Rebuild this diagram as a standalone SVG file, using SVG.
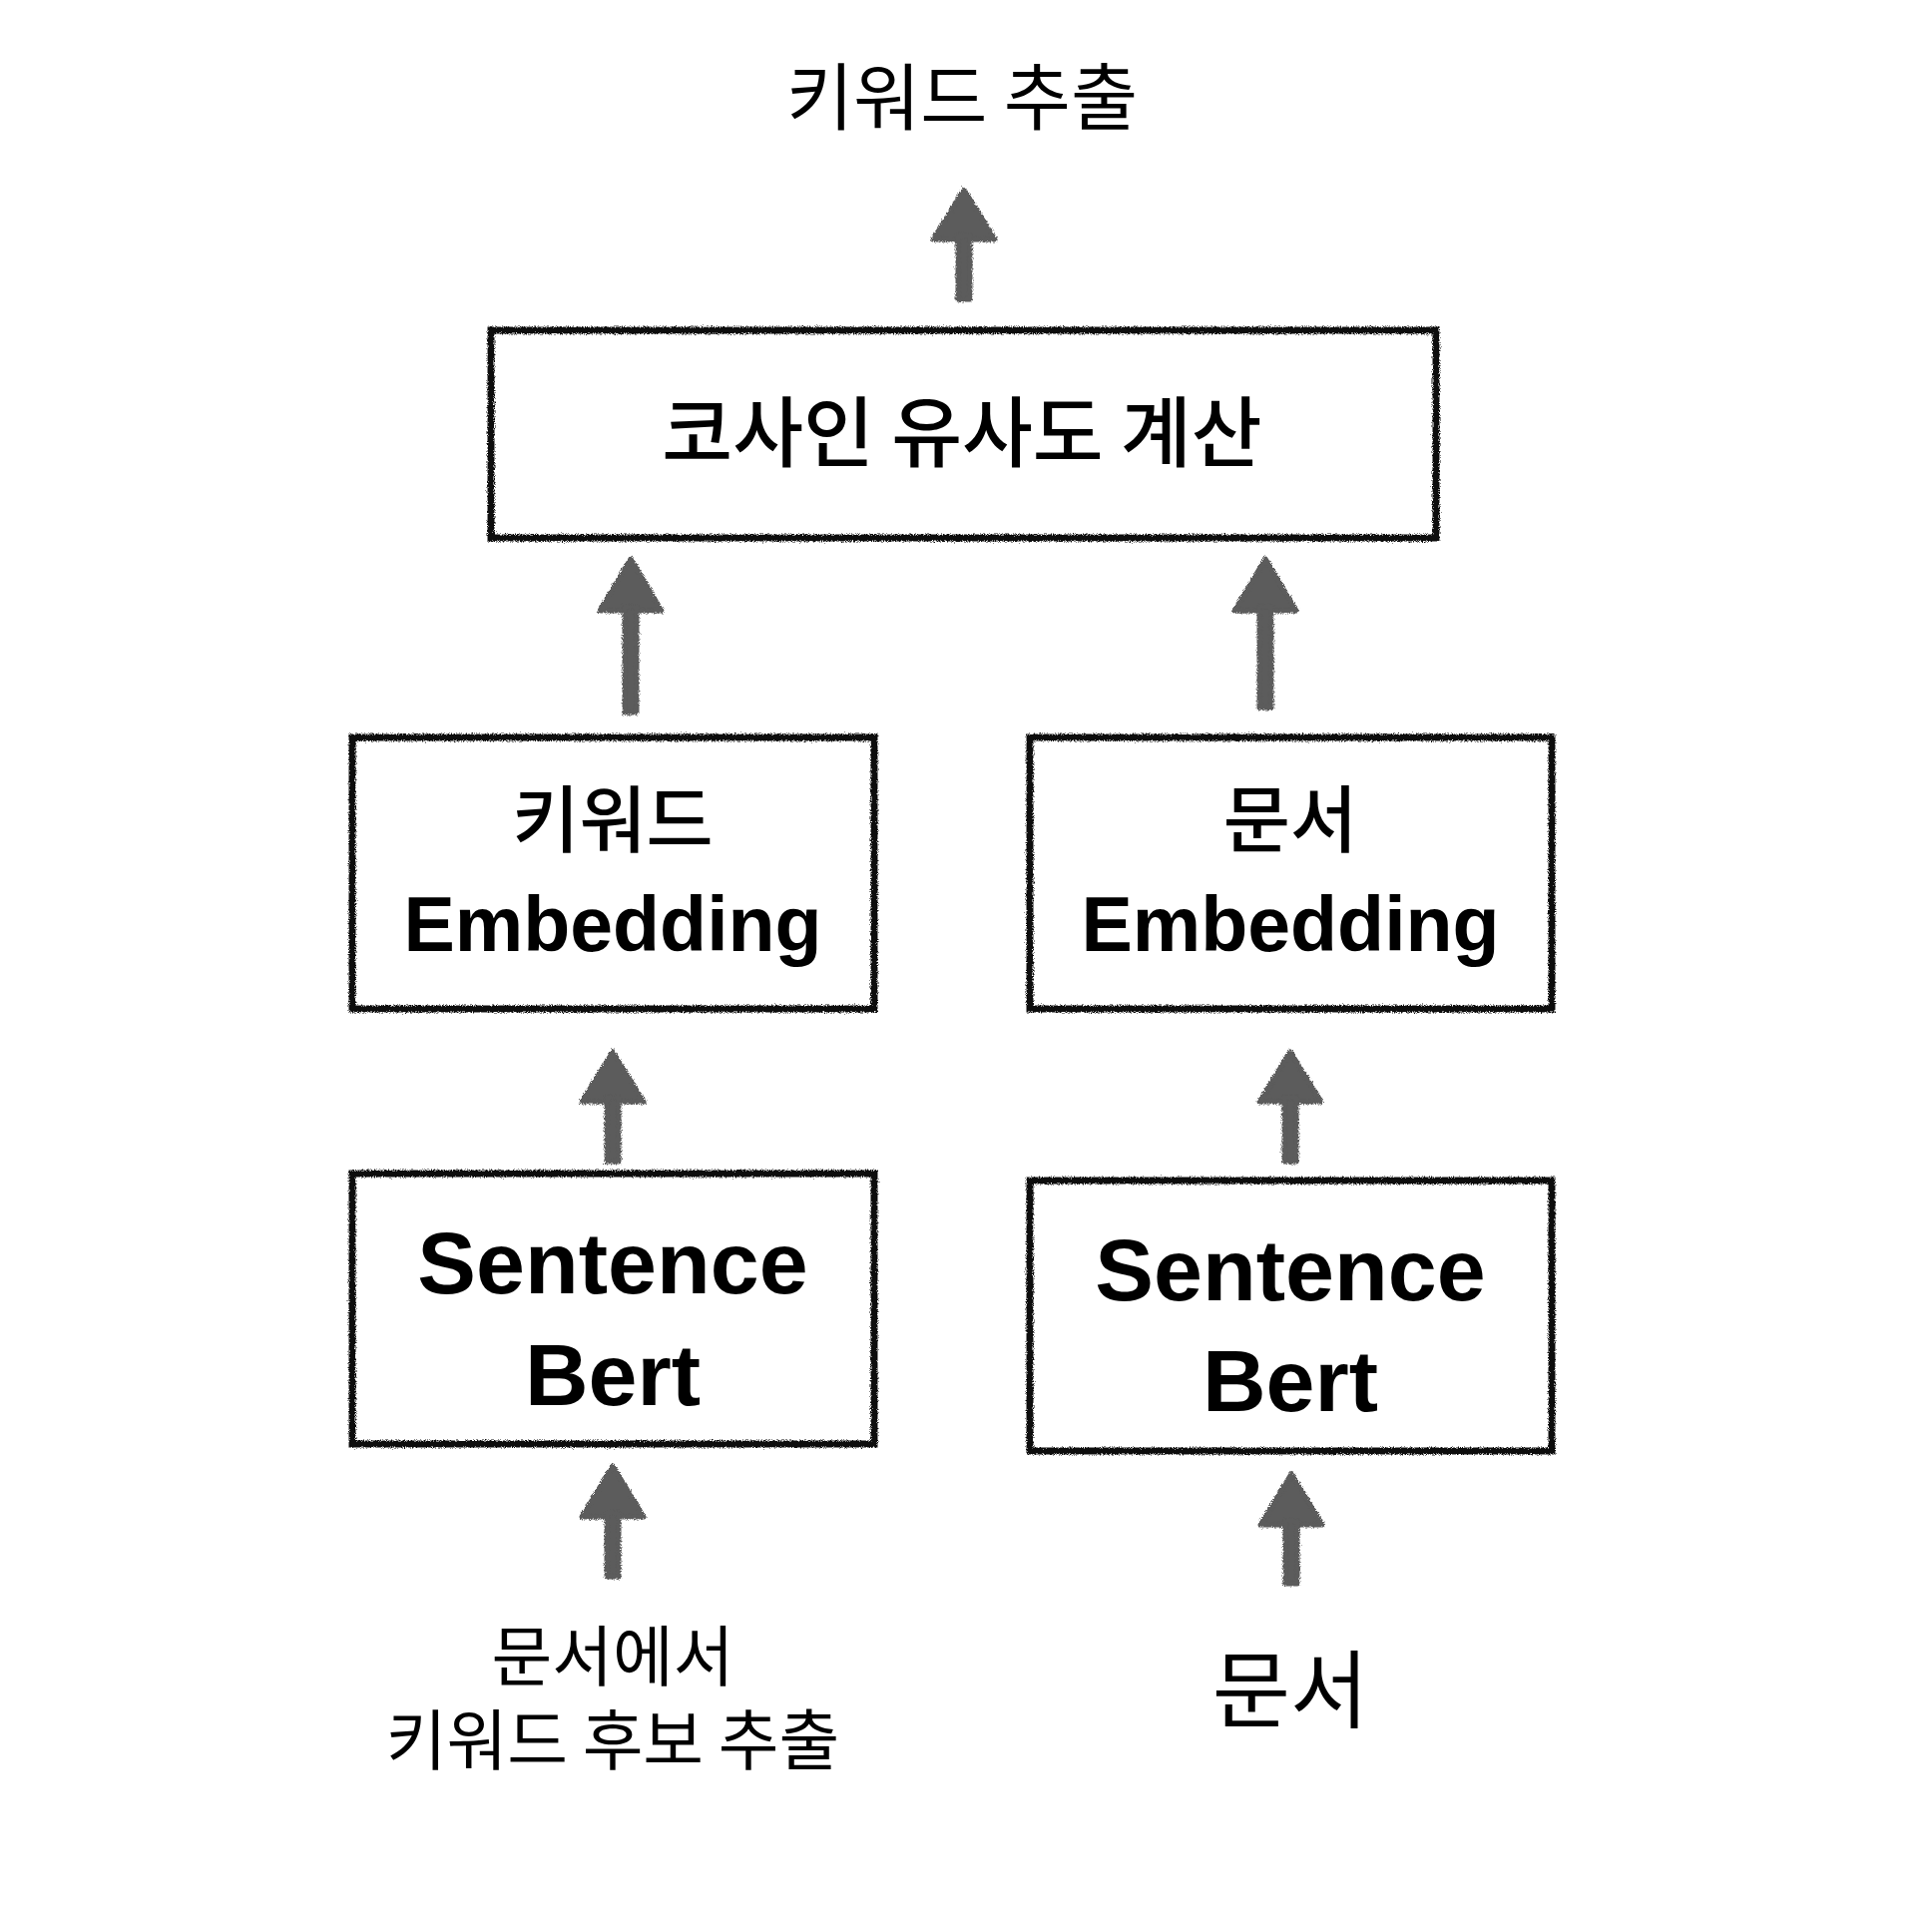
<svg xmlns="http://www.w3.org/2000/svg" width="1936" height="1920" viewBox="0 0 1936 1920">
<defs>
<filter id="rough" x="-3%" y="-3%" width="106%" height="106%">
<feTurbulence type="fractalNoise" baseFrequency="0.9" numOctaves="2" seed="4" result="n"/>
<feDisplacementMap in="SourceGraphic" in2="n" scale="5" xChannelSelector="R" yChannelSelector="G"/>
</filter>
<filter id="chalk" x="-20%" y="-20%" width="140%" height="140%">
<feTurbulence type="fractalNoise" baseFrequency="1.1" numOctaves="2" seed="9" result="n"/>
<feDisplacementMap in="SourceGraphic" in2="n" scale="5" xChannelSelector="R" yChannelSelector="G"/>
</filter>
</defs>
<style>
.box{fill:#fff;stroke:#111;stroke-width:7;filter:url(#rough)}
.arrow{fill:#5b5b5b;stroke:#5b5b5b;stroke-width:5;stroke-linejoin:round;filter:url(#chalk)}
.ko{font-family:"Noto Sans CJK KR","Noto Sans",sans-serif;fill:#000;text-anchor:middle}
.en{font-family:"Liberation Sans","Noto Sans CJK KR",sans-serif;font-weight:bold;fill:#000;text-anchor:middle}
</style>
<rect width="1936" height="1920" fill="#fff"/>

<g id="connectors">
<g class="arrow"><path d="M966,190 L997,240 L935,240 Z"/><rect x="960" y="236" width="12" height="64"/></g>
<g class="arrow"><path d="M632,560 L663,612 L601,612 Z"/><rect x="626" y="608" width="12" height="106"/></g>
<g class="arrow"><path d="M1268,560 L1299,612 L1237,612 Z"/><rect x="1262" y="608" width="12" height="101"/></g>
<g class="arrow"><path d="M614,1054 L645,1104 L583,1104 Z"/><rect x="608" y="1100" width="12" height="64"/></g>
<g class="arrow"><path d="M1293,1054 L1324,1104 L1262,1104 Z"/><rect x="1287" y="1100" width="12" height="64"/></g>
<g class="arrow"><path d="M614,1469 L645,1520 L583,1520 Z"/><rect x="608" y="1516" width="12" height="64"/></g>
<g class="arrow"><path d="M1294,1477 L1325,1528 L1263,1528 Z"/><rect x="1288" y="1524" width="12" height="63"/></g>
</g>

<g id="title">
<text class="ko" x="964" y="124" font-size="73">키워드 추출</text>
</g>

<g id="cosine">
<rect class="box" x="492" y="331" width="947" height="208"/>
<text class="ko" x="964" y="462" font-size="77" font-weight="500">코사인 유사도 계산</text>
</g>

<g id="kw-embedding">
<rect class="box" x="353" y="739" width="523" height="272"/>
<text class="ko" x="614" y="848" font-size="73" font-weight="500">키워드</text>
<text class="en" x="614" y="953" font-size="77">Embedding</text>
</g>

<g id="doc-embedding">
<rect class="box" x="1032" y="739" width="523" height="272"/>
<text class="ko" x="1293" y="848" font-size="73" font-weight="500">문서</text>
<text class="en" x="1293" y="953" font-size="77">Embedding</text>
</g>

<g id="kw-sbert">
<rect class="box" x="353" y="1176" width="523" height="271"/>
<text class="en" x="614" y="1296" font-size="88">Sentence</text>
<text class="en" x="614" y="1408" font-size="88">Bert</text>
</g>

<g id="doc-sbert">
<rect class="box" x="1032" y="1183" width="523" height="271"/>
<text class="en" x="1293" y="1303" font-size="88">Sentence</text>
<text class="en" x="1293" y="1414" font-size="88">Bert</text>
</g>

<g id="kw-candidates">
<text class="ko" font-size="66"><tspan x="614" y="1684">문서에서</tspan><tspan x="614" y="1768">키워드 후보 추출</tspan></text>
</g>

<g id="document">
<text class="ko" x="1293" y="1725" font-size="85">문서</text>
</g>
</svg>
